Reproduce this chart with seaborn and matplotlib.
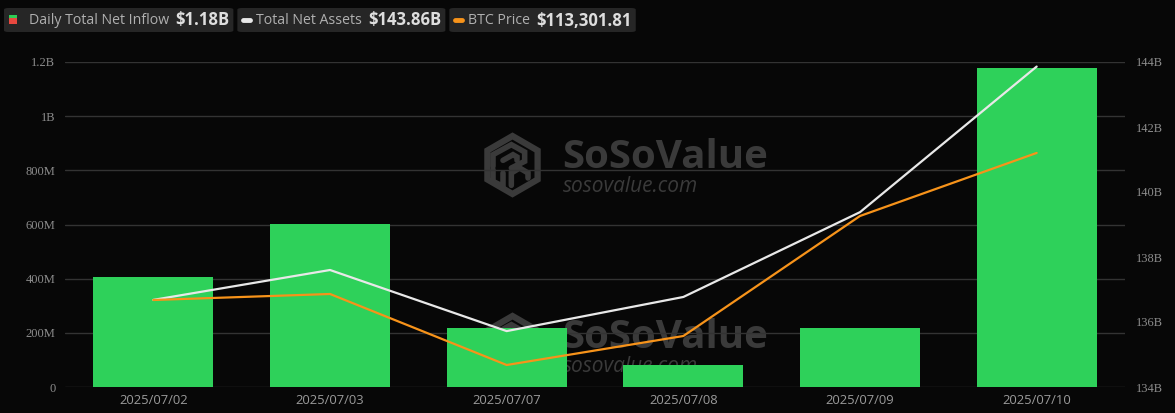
import numpy as np
import matplotlib
matplotlib.use("Agg")
import matplotlib.pyplot as plt
import matplotlib.transforms as mtransforms
import seaborn as sns
from matplotlib.patches import FancyBboxPatch, Rectangle, RegularPolygon
from matplotlib.lines import Line2D

# data
dates = ["2025/07/02", "2025/07/03", "2025/07/07", "2025/07/08", "2025/07/09", "2025/07/10"]
net_inflow = [406e6, 602e6, 217e6, 81e6, 218e6, 1178e6]
total_net_assets = [136.68e9, 137.60e9, 135.72e9, 136.77e9, 139.38e9, 143.86e9]
btc_price = [108777, 108962, 106777, 107669, 111362, 113301.81]

left_ticks = [0, 200e6, 400e6, 600e6, 800e6, 1e9, 1.2e9]
left_labels = ["0", "200M", "400M", "600M", "800M", "1B", "1.2B"]
right_ticks = [134e9, 136e9, 138e9, 140e9, 142e9, 144e9]
right_labels = ["134B", "136B", "138B", "140B", "142B", "144B"]

legend_items = [("Daily Total Net Inflow", "$1.18B", "bar"),
                ("Total Net Assets", "$143.86B", "#e8e8e8"),
                ("BTC Price", "$113,301.81", "#f7931a")]

BG = "#070707"
GREEN = "#2ed15a"
GRID = "#333333"
TICK = "#8c8c8c"
WM = "#3a3a3a"

sns.set_style("dark")
W, H = 1175, 413
fig = plt.figure(figsize=(W / 100, H / 100), dpi=100, facecolor=BG)


def px(x, y):
    return x / W, (H - y) / H


ax = fig.add_axes([65 / W, 26 / H, 1060 / W, 325 / H])
ax.set_facecolor(BG)
ax.set_axisbelow(True)

sns.barplot(x=dates, y=net_inflow, color=GREEN, width=0.68, saturation=1,
            edgecolor="none", linewidth=0, ax=ax)
for p in ax.patches:
    p.set_zorder(3)
ax.set_xlim(-0.5, 5.5)
ax.set_ylim(0, 1.2e9)
ax.set_yticks(left_ticks)
ax.set_yticklabels(left_labels, family="Liberation Serif", fontsize=9, color=TICK)
ax.set_xticks(range(len(dates)))
ax.set_xticklabels(dates, family="Open Sans", fontsize=9.4, color="#9a9a9a")
ax.tick_params(axis="both", length=0)
ax.tick_params(axis="y", pad=7)
ax.tick_params(axis="x", pad=5)
ax.grid(axis="y", color=GRID, linewidth=1)
ax.grid(axis="x", visible=False)
ax.set_xlabel("")
ax.set_ylabel("")
for s in ax.spines.values():
    s.set_visible(False)

# watermarks (under bars and grid)
ident = mtransforms.IdentityTransform()
icon_strokes = [
    [(45, 115), (45, 80), (100, 50), (140, 72), (140, 100), (100, 120)],
    [(75, 97), (105, 80), (117, 87), (117, 97)],
    [(45, 125), (45, 160), (75, 175), (75, 135)],
    [(100, 172), (100, 135), (125, 120), (150, 135), (150, 150)],
]
for dy in [0, 180]:
    ax.text(*px(562, 157 + dy), "SoSoValue", transform=fig.transFigure,
            fontsize=29, fontweight="bold", family="Open Sans", color=WM,
            va="center", ha="left", zorder=0.1)
    ax.text(*px(563, 187 + dy), "sosovalue.com", transform=fig.transFigure,
            fontsize=15, family="Open Sans", color=WM, style="italic",
            va="center", ha="left", zorder=0.1)
    hexa = RegularPolygon((512.5, H - 165 - dy), numVertices=6, radius=29,
                          orientation=0, facecolor="none", edgecolor=WM,
                          linewidth=4.5, zorder=0.1)
    hexa.set_transform(ident)
    ax.add_patch(hexa)
    for stroke in icon_strokes:
        xs = [478 + a / 3 for a, b in stroke]
        ys = [H - (128 + b / 3) - dy for a, b in stroke]
        ax.add_line(Line2D(xs, ys, color=WM, linewidth=4, transform=ident,
                           solid_joinstyle="miter", zorder=0.1))

# total net assets on the right axis
ax2 = ax.twinx()
sns.lineplot(x=np.arange(len(dates)), y=total_net_assets, color="#e8e8e8",
             linewidth=1.6, ax=ax2)
ax2.set_ylim(134e9, 144e9)
ax2.set_yticks(right_ticks)
ax2.set_yticklabels(right_labels, family="Liberation Serif", fontsize=9, color=TICK)
ax2.tick_params(axis="y", length=0, pad=8)
ax2.grid(False)
for s in ax2.spines.values():
    s.set_visible(False)

# btc price on a hidden axis
ax3 = ax.twinx()
sns.lineplot(x=np.arange(len(dates)), y=btc_price, color="#f7931a",
             linewidth=1.6, ax=ax3)
ax3.set_ylim(106100, 116100)
ax3.set_yticks([])
ax3.grid(False)
for s in ax3.spines.values():
    s.set_visible(False)
ax.set_xlim(-0.5, 5.5)

# legend chips at the top
fig.canvas.draw()
renderer = fig.canvas.get_renderer()
x = 4
for label, value, kind in legend_items:
    start = x
    if kind == "bar":
        fig.add_artist(Rectangle(px(9, 18), 8 / W, 3 / H, transform=fig.transFigure,
                                 facecolor="#2ecc55", edgecolor="none", zorder=5))
        fig.add_artist(Rectangle(px(9, 24), 8 / W, 6 / H, transform=fig.transFigure,
                                 facecolor="#e8483f", edgecolor="none", zorder=5))
        tx = x + 25
    else:
        fig.add_artist(Line2D([(x + 6) / W, (x + 13) / W], [(H - 20) / H] * 2,
                              transform=fig.transFigure, color=kind, linewidth=3.5,
                              solid_capstyle="round", zorder=5))
        tx = x + 19
    t1 = fig.text(*px(tx, 20.5), label, family="Open Sans", fontsize=10.2,
                  color="#b0b0b0", va="center", ha="left", zorder=5)
    w1 = t1.get_window_extent(renderer).width
    t2 = fig.text(*px(tx + w1 + 6, 20.5), value, family="Open Sans", fontsize=12,
                  fontweight="bold", color="#dedede", va="center", ha="left", zorder=5)
    w2 = t2.get_window_extent(renderer).width
    end = tx + w1 + 6 + w2 + 4
    fig.add_artist(FancyBboxPatch(px(start, 32), (end - start) / W, 24 / H,
                                  boxstyle="round,pad=0,rounding_size=0.004",
                                  transform=fig.transFigure, facecolor="#262626",
                                  edgecolor="none", zorder=4))
    x = end + 4

fig.savefig("out.png", dpi=100, facecolor=BG)
